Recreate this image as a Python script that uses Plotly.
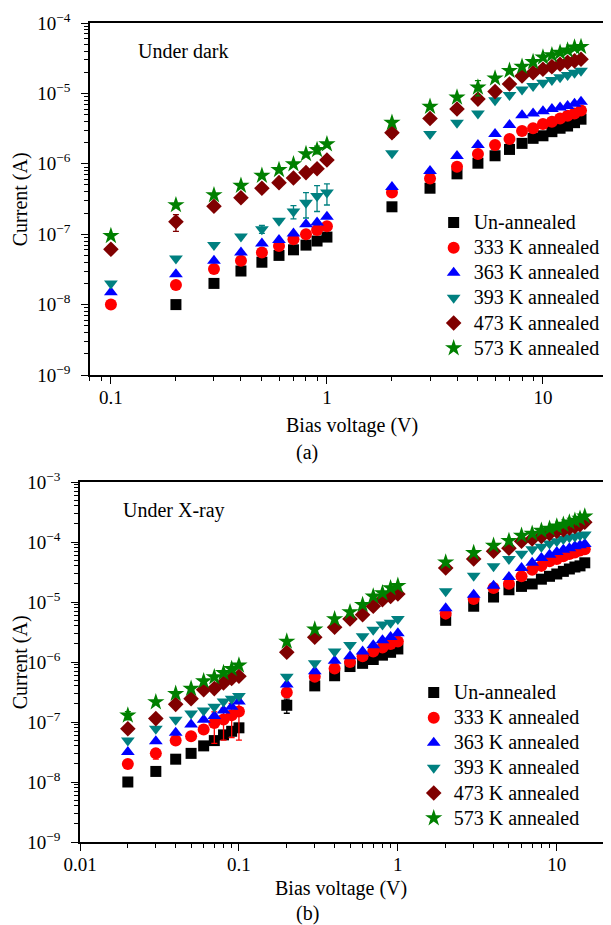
import math
import plotly.graph_objects as go

# ---------------- data: panel (a) under dark ----------------
V_dark = [0.1, 0.2, 0.3, 0.4, 0.5, 0.6, 0.7, 0.8, 0.9, 1.0,
          2, 3, 4, 5, 6, 7, 8, 9, 10, 11, 12, 13, 14, 15]

unann_dark = [None, 1.0e-8, 2.0e-8, 3.0e-8, 4.0e-8, 5.0e-8, 6.0e-8, 7.0e-8, 8.0e-8, 9.1e-8,
              2.45e-7, 4.5e-7, 7.2e-7, 1.02e-6, 1.3e-6, 1.6e-6, 1.95e-6, 2.3e-6, 2.5e-6,
              2.86e-6, 3.2e-6, 3.44e-6, 3.84e-6, 4.3e-6]
k333_dark = [1.0e-8, 1.9e-8, 3.2e-8, 4.2e-8, 5.5e-8, 6.8e-8, 8.5e-8, 1.0e-7, 1.15e-7, 1.3e-7,
             3.9e-7, 6.2e-7, 9.1e-7, 1.38e-6, 1.85e-6, 2.25e-6, 2.92e-6, 3.2e-6, 3.67e-6,
             3.96e-6, 4.4e-6, 4.8e-6, 5.2e-6, 5.7e-6]
k363_dark = [1.5e-8, 2.7e-8, 4.2e-8, 5.5e-8, 7.4e-8, 8.3e-8, 1.02e-7, 1.39e-7, 1.47e-7, 1.77e-7,
             4.7e-7, 7.9e-7, 1.29e-6, 1.85e-6, 2.65e-6, 3.56e-6, 4.9e-6, 5.2e-6, 5.6e-6,
             6.0e-6, 6.3e-6, 6.6e-6, 7.1e-6, 7.6e-6]
k393_dark = [2.0e-8, 4.5e-8, 7.0e-8, 9.3e-8, 1.18e-7, 1.55e-7, 2.1e-7, 2.8e-7, 3.5e-7, 3.9e-7,
             1.41e-6, 2.65e-6, 3.84e-6, 5.2e-6, 8.0e-6, 9.5e-6, 1.14e-5, 1.27e-5, 1.42e-5,
             1.55e-5, 1.69e-5, 1.82e-5, 1.97e-5, 2.1e-5]
k473_dark = [6.1e-8, 1.5e-7, 2.5e-7, 3.3e-7, 4.5e-7, 5.4e-7, 6.3e-7, 7.5e-7, 8.5e-7, 1.13e-6,
             2.77e-6, 4.4e-6, 6.0e-6, 8.3e-6, 1.06e-5, 1.36e-5, 1.77e-5, 1.97e-5, 2.2e-5,
             2.4e-5, 2.6e-5, 2.77e-5, 2.9e-5, 3.05e-5]
k573_dark = [9.5e-8, 2.6e-7, 3.6e-7, 4.9e-7, 6.8e-7, 8.2e-7, 9.9e-7, 1.38e-6, 1.58e-6, 1.9e-6,
             3.84e-6, 6.5e-6, 8.8e-6, 1.22e-5, 1.64e-5, 2.1e-5, 2.4e-5, 2.8e-5, 3.26e-5,
             3.5e-5, 3.8e-5, 4.1e-5, 4.5e-5, 4.6e-5]

err_unann_dark = [None] * 24
err_333_dark = [None] * 24
err_363_dark = [None] * 24
err_393_dark = [None, None, None, None, 1.5e-8, None, 4.5e-8, 1.1e-7, 1.4e-7, 1.3e-7,
                None, None, None, None, None, None, None, None, None, None, None, None, None, None]
err_473_dark = [None, 4.0e-8, None, None, None, None, None, None, None, None,
                4.0e-7, None, None, None, None, None, None, None, None, None, None, None, None, None]
err_573_dark = [None, None, None, None, None, None, None, None, 2.0e-7, None,
                None, None, None, 3.0e-6, None, None, None, None, None, None, None, None, None, None]

# ---------------- data: panel (b) under X-ray ----------------
V_xray = [0.02, 0.03, 0.04, 0.05, 0.06, 0.07, 0.08, 0.09, 0.1,
          0.2, 0.3, 0.4, 0.5, 0.6, 0.7, 0.8, 0.9, 1.0,
          2, 3, 4, 5, 6, 7, 8, 9, 10, 11, 12, 13, 14, 15]

unann_xray = [1.0e-8, 1.5e-8, 2.4e-8, 3.0e-8, 4.0e-8, 4.9e-8, 6.1e-8, 7.0e-8, 8.0e-8,
              1.9e-7, 4.0e-7, 5.9e-7, 8.4e-7, 9.5e-7, 1.1e-6, 1.3e-6, 1.45e-6, 1.65e-6,
              4.95e-6, 8.5e-6, 1.21e-5, 1.6e-5, 1.82e-5, 2.0e-5, 2.4e-5, 2.68e-5, 2.93e-5,
              3.24e-5, 3.55e-5, 3.83e-5, 4.0e-5, 4.5e-5]
k333_xray = [2.0e-8, 3.0e-8, 4.9e-8, 5.8e-8, 7.5e-8, 9.6e-8, 1.1e-7, 1.3e-7, 1.5e-7,
             3.1e-7, 5.7e-7, 7.8e-7, 1.0e-6, 1.25e-6, 1.5e-6, 1.75e-6, 2.0e-6, 2.2e-6,
             6.4e-6, 1.12e-5, 1.71e-5, 2.02e-5, 2.68e-5, 3.46e-5, 4.0e-5, 4.76e-5, 5.2e-5,
             5.8e-5, 6.3e-5, 6.7e-5, 7.2e-5, 7.6e-5]
k363_xray = [3.16e-8, 4.8e-8, 6.6e-8, 9.1e-8, 1.09e-7, 1.26e-7, 1.56e-7, 1.8e-7, 2.2e-7,
             4.2e-7, 7.0e-7, 1.05e-6, 1.25e-6, 1.5e-6, 1.9e-6, 2.3e-6, 2.6e-6, 3.0e-6,
             7.9e-6, 1.32e-5, 1.87e-5, 2.6e-5, 3.69e-5, 4.5e-5, 5.4e-5, 6.15e-5, 6.8e-5,
             7.4e-5, 7.9e-5, 8.5e-5, 8.8e-5, 9.3e-5]
k393_xray = [4.9e-8, 7.7e-8, 1.09e-7, 1.38e-7, 1.56e-7, 1.8e-7, 2.2e-7, 2.45e-7, 2.7e-7,
             5.7e-7, 9.5e-7, 1.49e-6, 1.92e-6, 2.68e-6, 3.46e-6, 4.2e-6, 4.5e-6, 5.2e-6,
             1.51e-5, 2.75e-5, 3.93e-5, 5.2e-5, 6.4e-5, 7.6e-5, 8.3e-5, 9.4e-5, 1.03e-4,
             1.12e-4, 1.2e-4, 1.24e-4, 1.29e-4, 1.33e-4]
k473_xray = [7.7e-8, 1.14e-7, 1.97e-7, 2.45e-7, 3.46e-7, 3.6e-7, 4.47e-7, 5.3e-7, 5.8e-7,
             1.45e-6, 2.58e-6, 3.8e-6, 5.2e-6, 6.15e-6, 8.5e-6, 1.09e-5, 1.24e-5, 1.36e-5,
             3.69e-5, 5.2e-5, 7.0e-5, 7.9e-5, 1.03e-4, 1.12e-4, 1.24e-4, 1.38e-4, 1.51e-4,
             1.6e-4, 1.71e-4, 1.82e-4, 1.95e-4, 2.13e-4]
k573_xray = [1.29e-7, 2.15e-7, 2.96e-7, 3.6e-7, 4.8e-7, 5.6e-7, 6.6e-7, 7.7e-7, 8.8e-7,
             2.2e-6, 3.5e-6, 5.2e-6, 6.8e-6, 9.0e-6, 1.24e-5, 1.41e-5, 1.71e-5, 1.87e-5,
             4.6e-5, 6.6e-5, 8.7e-5, 1.05e-4, 1.28e-4, 1.38e-4, 1.55e-4, 1.67e-4, 1.82e-4,
             1.95e-4, 2.13e-4, 2.27e-4, 2.45e-4, 2.68e-4]

err_unann_xray = [None] * 9 + [5.0e-8] + [None] * 22
err_333_xray = [None, 6.0e-9, None, None, None, 5.2e-8, 6.0e-8, 7.5e-8, 1.0e-7,
                5.0e-8] + [None] * 22
err_363_xray = [None] * 32
err_393_xray = [None] * 32
err_473_xray = [None] * 32
err_573_xray = [2.0e-8] + [None] * 31

# ---------------- labels / styles ----------------
series_names = ["Un-annealed", "333 K annealed", "363 K annealed",
                "393 K annealed", "473 K annealed", "573 K annealed"]
colors = ["#000000", "#FF0000", "#0000FF", "#008080", "#800000", "#008000"]
symbols = ["square", "circle", "triangle-up", "triangle-down", "diamond", "star"]
sizes = [11, 12, 12, 12, 12, 13]

dark_sets = [unann_dark, k333_dark, k363_dark, k393_dark, k473_dark, k573_dark]
dark_errs = [err_unann_dark, err_333_dark, err_363_dark, err_393_dark, err_473_dark, err_573_dark]
xray_sets = [unann_xray, k333_xray, k363_xray, k393_xray, k473_xray, k573_xray]
xray_errs = [err_unann_xray, err_333_xray, err_363_xray, err_393_xray, err_473_xray, err_573_xray]

FONT = "Liberation Serif"


def legend_label(s):
    return "<span style='font-size:20px'>%s</span>" % s


fig = go.Figure()
for i, name in enumerate(series_names):
    fig.add_trace(go.Scatter(
        x=V_dark, y=dark_sets[i], mode="markers", name=legend_label(name),
        marker=dict(symbol=symbols[i], color=colors[i], size=sizes[i], line=dict(width=0)),
        error_y=dict(type="data", array=dark_errs[i], visible=True, color=colors[i],
                     thickness=1.3, width=3),
        xaxis="x", yaxis="y", legend="legend"))
for i, name in enumerate(series_names):
    fig.add_trace(go.Scatter(
        x=V_xray, y=xray_sets[i], mode="markers", name=legend_label(name),
        marker=dict(symbol=symbols[i], color=colors[i], size=sizes[i], line=dict(width=0)),
        error_y=dict(type="data", array=xray_errs[i], visible=True, color=colors[i],
                     thickness=1.3, width=3),
        xaxis="x2", yaxis="y2", legend="legend2"))


def sup_ticks(lo, hi):
    vals = [10.0 ** e for e in range(lo, hi + 1)]
    txt = ["10<sup>\u2212%d</sup>" % (-e) for e in range(lo, hi + 1)]
    return vals, txt


def minor_vals(lo, hi):
    out = []
    for e in range(lo, hi):
        for d in range(2, 10):
            out.append(d * 10.0 ** e)
    return out


tickfont = dict(family=FONT, size=19, color="black")
common_x = dict(type="log", showgrid=False, zeroline=False, showline=True, linecolor="black",
                linewidth=1.5, mirror=True, ticks="outside", ticklen=7, tickwidth=1.3,
                tickcolor="black", tickfont=tickfont,
                minor=dict(ticks="outside", ticklen=4, tickwidth=1, tickcolor="black",
                           showgrid=False))
common_y = dict(common_x)

# inward tick marks on the top / right frame edges
mirror_axis = dict(type="log", showgrid=False, zeroline=False, showline=False,
                   ticks="inside", ticklen=6, tickwidth=1.1, tickcolor="#444444",
                   showticklabels=False,
                   minor=dict(ticks="inside", ticklen=3, tickwidth=1, tickcolor="#444444",
                              showgrid=False))

yv1, yt1 = sup_ticks(-9, -4)
yv2, yt2 = sup_ticks(-9, -3)

# page is offset by the browser's 8px body margin
OFF = 8
W, H = 611 - OFF, 925 - OFF
ml, mr, mt, mb = 80 - OFF, 1, 23 - OFF, 83
pw = W - ml - mr
ph = H - mt - mb


def px(xp):  # page pixel -> paper fraction
    return (xp - OFF - ml) / pw


def py(yp):
    return 1 - (yp - OFF - mt) / ph


xr1 = [math.log10(0.08), math.log10(20)]
xr2 = [-2, math.log10(21)]

fig.update_layout(
    width=W, height=H, margin=dict(l=ml, r=mr, t=mt, b=mb),
    paper_bgcolor="white", plot_bgcolor="white",
    font=dict(family=FONT, size=19, color="black"),
    xaxis=dict(common_x, domain=[px(90), 1], anchor="y", range=xr1,
               tickvals=[0.1, 1, 10], ticktext=["0.1", "1", "10"], ticklabelstandoff=-3,
               minor=dict(common_x["minor"], tickvals=minor_vals(-2, 2))),
    yaxis=dict(common_y, domain=[py(375), 1], anchor="x", range=[-9, -4],
               tickvals=yv1, ticktext=yt1, ticklabelstandoff=7,
               minor=dict(common_x["minor"], tickvals=minor_vals(-9, -4))),
    xaxis2=dict(common_x, domain=[0, 1], anchor="y2", range=xr2,
                tickvals=[0.01, 0.1, 1, 10], ticktext=["0.01", "0.1", "1", "10"],
                ticklabelstandoff=-3,
                minor=dict(common_x["minor"], tickvals=minor_vals(-2, 2))),
    yaxis2=dict(common_y, domain=[0, py(482)], anchor="x2", range=[-9, -3],
                tickvals=yv2, ticktext=yt2, ticklabelstandoff=7,
                minor=dict(common_x["minor"], tickvals=minor_vals(-9, -3))),
    xaxis3=dict(mirror_axis, overlaying="x", anchor="y", side="top", range=xr1,
                tickvals=[0.1, 1, 10],
                minor=dict(mirror_axis["minor"], tickvals=minor_vals(-2, 2))),
    yaxis3=dict(mirror_axis, overlaying="y", anchor="x", side="right", range=[-9, -4],
                tickvals=yv1,
                minor=dict(mirror_axis["minor"], tickvals=minor_vals(-9, -4))),
    xaxis4=dict(mirror_axis, overlaying="x2", anchor="y2", side="top", range=xr2,
                tickvals=[0.01, 0.1, 1, 10],
                minor=dict(mirror_axis["minor"], tickvals=minor_vals(-2, 2))),
    yaxis4=dict(mirror_axis, overlaying="y2", anchor="x2", side="right", range=[-9, -3],
                tickvals=yv2,
                minor=dict(mirror_axis["minor"], tickvals=minor_vals(-9, -3))),
    showlegend=True,
    legend=dict(x=px(435), y=py(205), xanchor="left", yanchor="top",
                bgcolor="rgba(0,0,0,0)", font=dict(family=FONT, size=17, color="black"),
                tracegroupgap=0),
    legend2=dict(x=px(415), y=py(675), xanchor="left", yanchor="top",
                 bgcolor="rgba(0,0,0,0)", font=dict(family=FONT, size=17, color="black"),
                 tracegroupgap=0),
)

ann_font = dict(family=FONT, size=20, color="black")
annotations = [
    dict(text="Under dark", x=px(136), y=py(51), xanchor="left", yanchor="middle"),
    dict(text="Under X-ray", x=px(121), y=py(510), xanchor="left", yanchor="middle"),
    dict(text="Bias voltage (V)", x=px(353), y=py(425), xanchor="center", yanchor="middle"),
    dict(text="(a)", x=px(308), y=py(452), xanchor="center", yanchor="middle"),
    dict(text="Bias voltage (V)", x=px(342), y=py(888), xanchor="center", yanchor="middle"),
    dict(text="(b)", x=px(308), y=py(914), xanchor="center", yanchor="middle"),
    dict(text="Current (A)", x=px(20), y=py(199), xanchor="center", yanchor="middle",
         textangle=-90),
    dict(text="Current (A)", x=px(20), y=py(662), xanchor="center", yanchor="middle",
         textangle=-90),
]
for a in annotations:
    fig.add_annotation(xref="paper", yref="paper", showarrow=False, font=ann_font, **a)

fig.write_html("out.html")
